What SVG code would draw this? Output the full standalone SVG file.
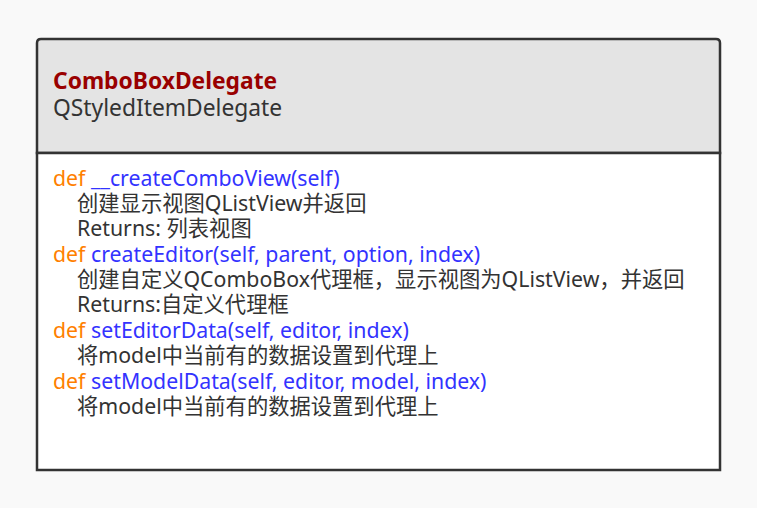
<svg xmlns="http://www.w3.org/2000/svg" width="757" height="508" viewBox="0 0 757 508">
<style>
text{font-family:"Noto Sans","Noto Sans CJK SC",sans-serif;font-size:21.3px;}
.kw{fill:#ff7f00;}
.fn{fill:#3333ff;}
.tx{fill:#333333;}
.hd{font-size:22.8px;}
.title{fill:#990000;font-weight:bold;}
</style>
<rect x="0" y="0" width="757" height="508" fill="#f9f9f9"/>
<g id="ComboBoxDelegate">
<path d="M37,153 V43 Q37,39 41,39 H716 Q720,39 720,43 V153 Z" fill="#e4e4e4" stroke="#333333" stroke-width="2.5"/>
<rect x="37" y="153" width="683" height="317" fill="#ffffff" stroke="#333333" stroke-width="2.5"/>
<text x="53" y="89" class="title hd">ComboBoxDelegate</text>
<text x="53" y="116" class="tx hd">QStyledItemDelegate</text>
<text x="53" y="186"><tspan class="kw">def </tspan><tspan class="fn">__createComboView(self)</tspan></text>
<text x="77" y="211" class="tx">创建显示视图QListView并返回</text>
<text x="77" y="236" class="tx">Returns: 列表视图</text>
<text x="53" y="262"><tspan class="kw">def </tspan><tspan class="fn">createEditor(self, parent, option, index)</tspan></text>
<text x="77" y="287" class="tx">创建自定义QComboBox代理框，显示视图为QListView，并返回</text>
<text x="77" y="312" class="tx">Returns:自定义代理框</text>
<text x="53" y="338"><tspan class="kw">def </tspan><tspan class="fn">setEditorData(self, editor, index)</tspan></text>
<text x="77" y="363" class="tx">将model中当前有的数据设置到代理上</text>
<text x="53" y="389"><tspan class="kw">def </tspan><tspan class="fn">setModelData(self, editor, model, index)</tspan></text>
<text x="77" y="414" class="tx">将model中当前有的数据设置到代理上</text>
</g>
</svg>
